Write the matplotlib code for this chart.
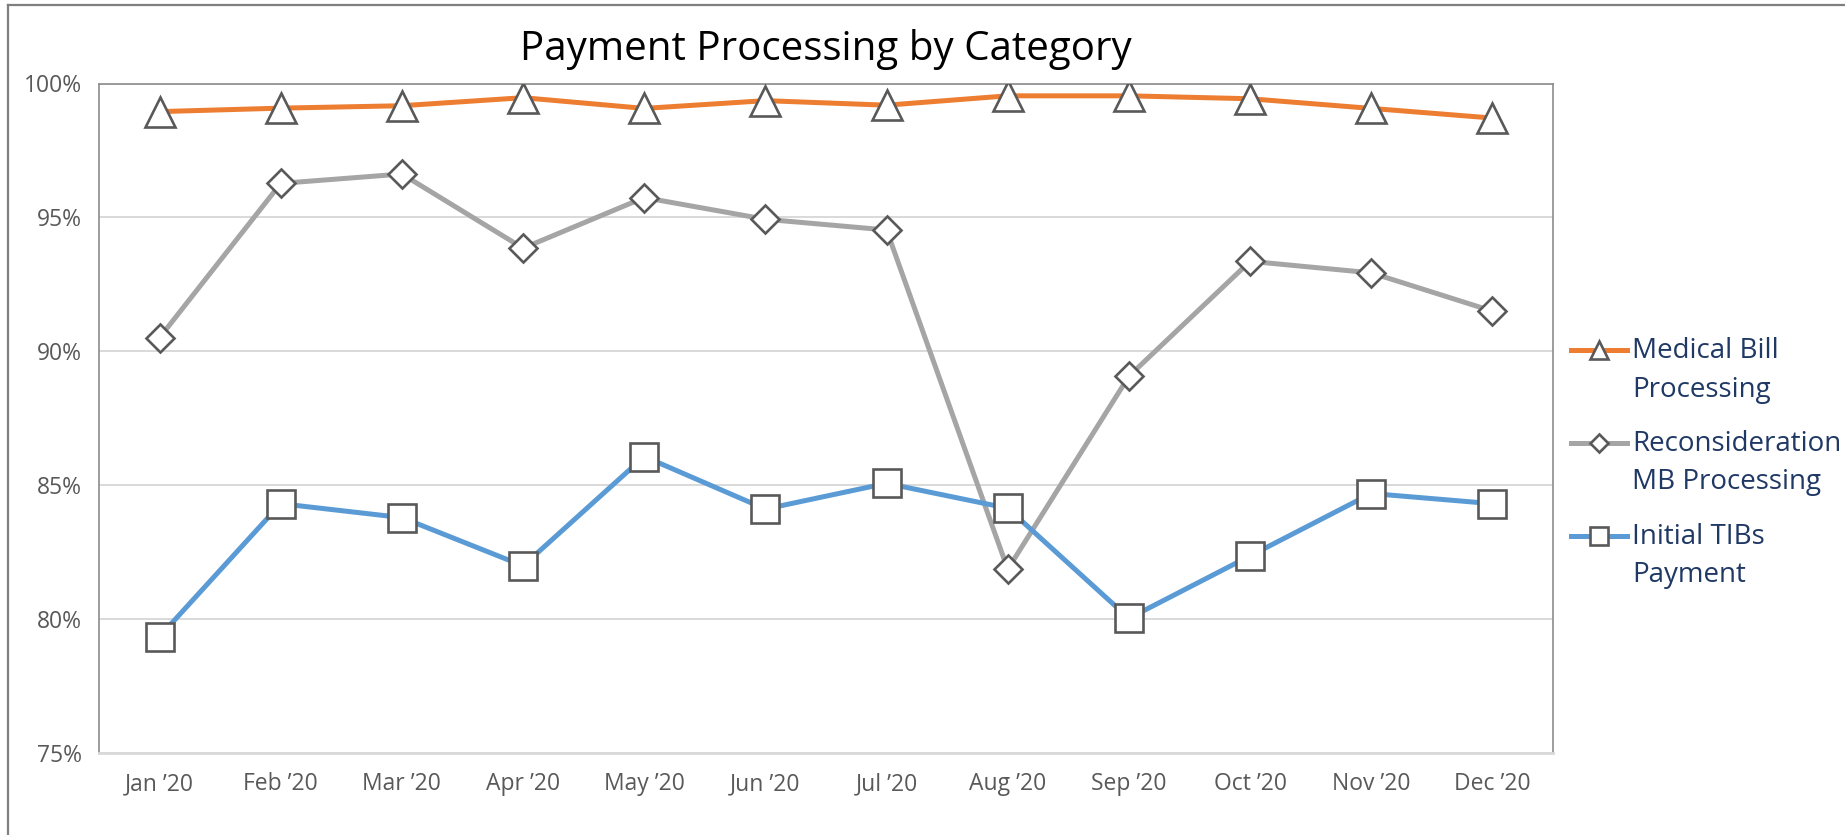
import matplotlib
matplotlib.use("Agg")
import matplotlib.pyplot as plt
import matplotlib.transforms as mtransforms
from matplotlib.legend_handler import HandlerLine2D
from matplotlib.lines import Line2D
from matplotlib.ticker import FuncFormatter

plt.rcParams['font.family'] = ['Open Sans', 'DejaVu Sans']

# data
months = ['Jan \u201920', 'Feb \u201920', 'Mar \u201920', 'Apr \u201920', 'May \u201920', 'Jun \u201920',
          'Jul \u201920', 'Aug \u201920', 'Sep \u201920', 'Oct \u201920', 'Nov \u201920', 'Dec \u201920']
medical_bill = [98.95, 99.08, 99.17, 99.47, 99.07, 99.36, 99.19, 99.54, 99.54, 99.43, 99.07, 98.71]
reconsideration = [90.51, 96.27, 96.62, 93.85, 95.74, 94.93, 94.53, 81.86, 89.07, 93.36, 92.93, 91.50]
initial_tibs = [79.35, 84.31, 83.79, 81.99, 86.07, 84.11, 85.07, 84.14, 80.03, 82.36, 84.69, 84.31]
labels = ['Medical Bill\nProcessing', 'Reconsideration\nMB Processing', 'Initial TIBs\nPayment']
yticks = [75, 80, 85, 90, 95, 100]

ORANGE = '#ED7D31'
GREY = '#A5A5A5'
BLUE = '#5B9BD5'
EDGE = '#595959'
TICK = '#595959'
NAVY = '#1F3864'


class FirstLineHandler(HandlerLine2D):
    """legend handle aligned with first line of a two line label"""
    def create_artists(self, legend, orig_handle, xdescent, ydescent,
                       width, height, fontsize, trans):
        arts = super().create_artists(legend, orig_handle, xdescent, ydescent,
                                      width, height, fontsize, trans)
        shift = mtransforms.Affine2D().translate(0, 0.74 * fontsize) + trans
        for a in arts:
            a.set_transform(shift)
        return arts


fig = plt.figure(figsize=(18.45, 8.35), dpi=100)
ax = fig.add_axes([99 / 1845, 1 - 753 / 835, 1454 / 1845, 669.5 / 835])

x = list(range(len(months)))
l1, = ax.plot(x, medical_bill, color=ORANGE, lw=3.6, marker='^', ms=21,
              mfc='white', mec=EDGE, mew=1.9, zorder=3)
l2, = ax.plot(x, reconsideration, color=GREY, lw=3.6, marker='D', ms=14,
              mfc='white', mec=EDGE, mew=1.9, zorder=3)
l3, = ax.plot(x, initial_tibs, color=BLUE, lw=3.6, marker='s', ms=20,
              mfc='white', mec=EDGE, mew=1.9, zorder=3)

ax.set_xlim(-0.5, len(months) - 0.5)
ax.set_ylim(75, 100)
ax.set_yticks(yticks)
ax.yaxis.set_major_formatter(FuncFormatter(lambda v, p: '%d%%' % v))
ax.set_xticks(x)
ax.set_xticklabels(months)
ax.tick_params(length=0, labelsize=16.5, labelcolor=TICK)
ax.tick_params(axis='x', pad=14)
ax.tick_params(axis='y', pad=12)
ax.grid(axis='y', color='#D9D9D9', lw=1.4)
ax.set_axisbelow(True)
for s in ['left', 'top', 'right']:
    ax.spines[s].set_color('#8C8C8C')
    ax.spines[s].set_linewidth(1.2)
ax.spines['bottom'].set_color('#D9D9D9')
ax.spines['bottom'].set_linewidth(2)

fig.text((99 + 1553) / 2 / 1845, 1 - 50 / 835, 'Payment Processing by Category',
         ha='center', va='center', fontsize=29, color='black')

leg = ax.legend([l1, l2, l3], labels, loc='upper left',
                bbox_to_anchor=(1571 / 1845, 1 - 337 / 835), bbox_transform=fig.transFigure,
                frameon=False, fontsize=20, labelcolor=NAVY, markerscale=0.62,
                handlelength=2.0, handletextpad=0.2, labelspacing=0.95, borderpad=0,
                borderaxespad=0, handler_map={Line2D: FirstLineHandler()})
for t in leg.get_texts():
    t.set_linespacing(1.5)

# outer chart frame (top and left edges visible)
fig.add_artist(Line2D([8 / 1845, 1], [1 - 5 / 835, 1 - 5 / 835], transform=fig.transFigure,
                      color='#7F7F7F', lw=1.6))
fig.add_artist(Line2D([8 / 1845, 8 / 1845], [0, 1 - 5 / 835], transform=fig.transFigure,
                      color='#7F7F7F', lw=1.6))

fig.savefig('out.png', dpi=100)
